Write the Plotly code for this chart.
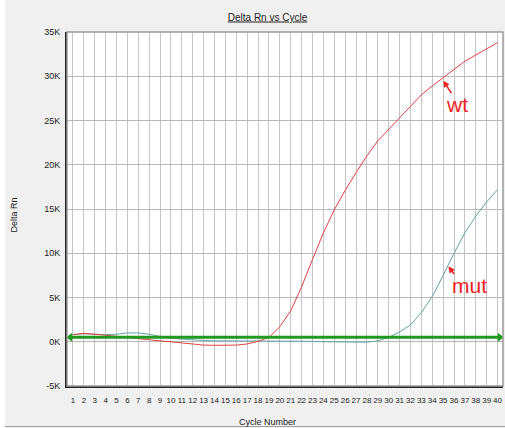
import plotly.graph_objects as go

cycles = list(range(1, 41))
wt = [800, 950, 850, 750, 650, 500, 350, 200, 100, 0,
      -150, -300, -380, -400, -400, -380, -250, 50, 500, 1700,
      3500, 6200, 9300, 12300, 14900, 17100, 19100, 21000, 22700, 24000,
      25300, 26600, 27900, 28900, 29800, 30800, 31700, 32400, 33100, 33800]
mut = [800, 900, 850, 800, 850, 1000, 1000, 850, 600, 400,
       300, 200, 150, 100, 100, 100, 100, 100, 100, 100,
       100, 100, 50, 0, 0, 0, -50, -50, 100, 500,
       1100, 1900, 3300, 5100, 7500, 10000, 12300, 14200, 15800, 17200]
threshold = 500
y_ticks = [-5000, 0, 5000, 10000, 15000, 20000, 25000, 30000, 35000]
y_tick_labels = ["-5K", "0K", "5K", "10K", "15K", "20K", "25K", "30K", "35K"]
x_range = [0.45, 40.5]
y_range = [-5000, 35000]

W, H = 505, 428
ML, MR, MT, MB = 67, 2, 32, 42
PW = W - ML - MR
PH = H - MT - MB

def px(xpix):
    return (xpix - ML) / PW

def py(ypix):
    return 1 - (ypix - MT) / PH

fig = go.Figure()
fig.add_trace(go.Scatter(x=cycles, y=mut, mode="lines",
                         line=dict(color="#62a3a3", width=1), showlegend=False))
fig.add_trace(go.Scatter(x=cycles, y=wt, mode="lines",
                         line=dict(color="#e04040", width=1), showlegend=False))
fig.add_trace(go.Scatter(x=[x_range[0] + 0.3, x_range[1] - 0.3], y=[threshold, threshold],
                         mode="lines+markers",
                         line=dict(color="#1f9a1f", width=3),
                         marker=dict(symbol=["triangle-left", "triangle-right"], size=8,
                                     color="#1f9a1f"),
                         cliponaxis=False, showlegend=False))

fig.update_layout(
    width=W, height=H,
    margin=dict(l=ML, r=MR, t=MT, b=MB),
    paper_bgcolor="#f0f0f0",
    plot_bgcolor="white",
    font=dict(family="Liberation Sans, Arial, sans-serif", size=9, color="#333333"),
    title=dict(text="<u>Delta Rn vs Cycle</u>", x=267.5 / W, xanchor="center",
               y=1 - 17 / H, yanchor="middle",
               font=dict(size=10, color="#222222")),
    xaxis=dict(range=x_range, tickvals=cycles, ticktext=[str(c) for c in cycles],
               tickangle=0,
               showgrid=True, gridcolor="#c4c4c4", gridwidth=1,
               zeroline=False, showline=True, linecolor="#222222", linewidth=2,
               ticks="", tickfont=dict(size=8, color="#222222"),
               ticklabelstandoff=5),
    yaxis=dict(range=y_range, tickvals=y_ticks, ticktext=y_tick_labels,
               showgrid=True, gridcolor="#b8b8b8", gridwidth=1,
               zeroline=False, showline=True, linecolor="#222222", linewidth=2,
               ticks="", tickfont=dict(size=9, color="#222222"), ticklabelstandoff=3),
    shapes=[
        dict(type="rect", xref="paper", yref="paper", x0=0, x1=1, y0=0, y1=1,
             line=dict(color="#9a9a9a", width=1.5), layer="above"),
        dict(type="rect", xref="paper", yref="paper", x0=px(0), x1=px(5), y0=py(H), y1=py(0),
             fillcolor="white", line=dict(width=0), layer="below"),
        dict(type="line", xref="paper", yref="paper", x0=px(5), x1=px(W), y0=py(426.5), y1=py(426.5),
             line=dict(color="#a0a0a0", width=1)),
    ],
    annotations=[
        dict(text="Cycle Number", xref="paper", yref="paper", x=px(267.5), y=py(422),
             showarrow=False, xanchor="center", yanchor="middle",
             font=dict(size=9, color="#222222")),
        dict(text="Delta Rn", xref="paper", yref="paper", x=px(13.5), y=py(215),
             showarrow=False, textangle=-90, xanchor="center", yanchor="middle",
             font=dict(size=9, color="#222222")),
        dict(text="wt", xref="paper", yref="paper", x=px(457), y=py(104),
             showarrow=False, xanchor="center", yanchor="middle",
             font=dict(size=21, color="#ee2222", family="Liberation Sans, Arial, sans-serif")),
        dict(text="mut", xref="paper", yref="paper", x=px(469), y=py(285),
             showarrow=False, xanchor="center", yanchor="middle",
             font=dict(size=21, color="#ee2222", family="Liberation Sans, Arial, sans-serif")),
        dict(text="", x=35.02, y=29500, ax=9, ay=14, showarrow=True,
             arrowhead=2, arrowsize=0.8, arrowwidth=1.6, arrowcolor="#ee2222", standoff=0),
        dict(text="", x=35.48, y=8500, ax=7, ay=9, showarrow=True,
             arrowhead=2, arrowsize=0.8, arrowwidth=1.6, arrowcolor="#ee2222", standoff=0),
    ],
)

fig.write_html("out.html")
